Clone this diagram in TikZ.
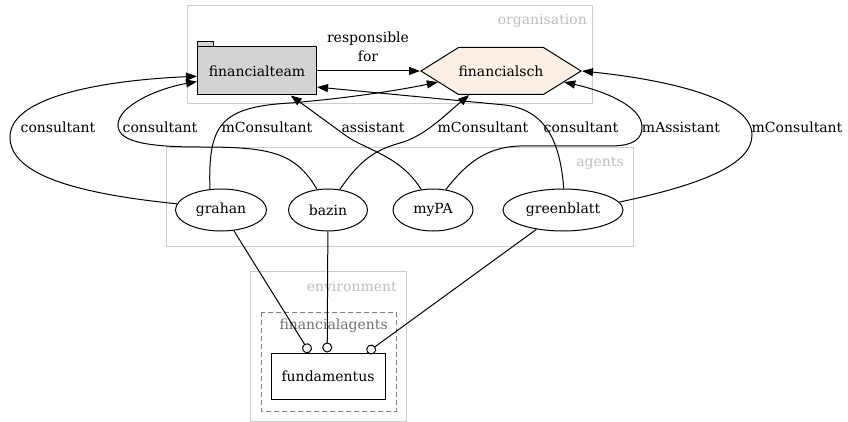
\documentclass[tikz,border=0pt]{standalone}
\usepackage{fontspec}
\setmainfont{DejaVu Serif}
\usetikzlibrary{arrows.meta,shapes.symbols,shapes.geometric}

\definecolor{clusterline}{HTML}{CCCCCC}
\definecolor{clustertext}{HTML}{BEBEBE}
\definecolor{groupline}{HTML}{7F7F7F}
\definecolor{grouptext}{HTML}{707070}
\definecolor{teamfill}{HTML}{D3D3D3}
\definecolor{schfill}{HTML}{FAF0E6}

\tikzset{
  txt/.style={font=\fontsize{14}{17}\selectfont},
  cluster/.style={draw=clusterline, line width=1pt},
  clusterlabel/.style={txt, text=clustertext, anchor=east, inner sep=0pt},
  agent/.style={ellipse, draw, minimum height=42pt, inner sep=0pt},
  rel/.style={draw, line width=1pt, -{Triangle[length=11pt,width=8pt]}},
  uses/.style={draw, line width=1pt, -{Circle[open,length=10pt,width=10pt]}},
  elabel/.style={txt, inner sep=0pt}
}

\begin{document}
\begin{tikzpicture}[x=1pt, y=-1pt]
\useasboundingbox (0,0) rectangle (848,422);

% clusters
\draw[cluster] (187,6) rectangle (592,104);
\node[clusterlabel] (orglabel) at (587,21) {organisation};
\draw[cluster] (166,148) rectangle (633,246);
\node[clusterlabel] (agentslabel) at (624,163) {agents};
\draw[cluster] (250,271) rectangle (406,421);
\node[clusterlabel] (envlabel) at (397,286) {environment};
\draw[draw=groupline, dash pattern=on 5pt off 3pt, line width=1pt] (261,312) rectangle (396,411);
\node[clusterlabel, text=grouptext] (grouplabel) at (388,326) {financialagents};

\begin{scope}[every node/.style={txt, draw, line width=1pt}]
  \node[fill=teamfill, minimum width=119pt, minimum height=48pt, inner sep=0pt] (financialteam) at (257,71) {financialteam};
  \node[fill=schfill, signal, signal to=west and east, signal pointer angle=64,
        minimum width=160pt, minimum height=47pt, inner sep=0pt] (financialsch) at (501,71) {financialsch};
  \node[agent, minimum width=91pt] (grahan) at (221,210) {grahan};
  \node[agent, minimum width=79pt] (bazin) at (328,210) {bazin};
  \node[agent, minimum width=80pt] (myPA) at (433,210) {myPA};
  \node[agent, minimum width=120pt] (greenblatt) at (563,210) {greenblatt};
  \node[minimum width=114pt, minimum height=46pt, inner sep=0pt] (fundamentus) at (328,376) {fundamentus};
\end{scope}
\draw[fill=teamfill, line width=1pt] (financialteam.north west) rectangle ++(16,-5);

% relations
\path[rel] (financialteam.east) -- (financialsch.west)
  node[elabel, align=center] (resplabel) at (368,47) {responsible\\[2pt]for};
\path[rel] (grahan.172) .. controls (60,192) and (10,170) .. (10,137)
  .. controls (10,95) and (110,80) .. (financialteam.185)
  node[elabel] at (58,127) {consultant};
\path[rel] (bazin.118) .. controls (295,152) and (270,147) .. (200,147)
  .. controls (140,147) and (118,140) .. (118,125)
  .. controls (118,105) and (160,88) .. (financialteam.190)
  node[elabel] at (160,127) {consultant};
\path[rel] (grahan.118) .. controls (208,125) and (220,107) .. (290,103)
  .. controls (350,98) and (400,90) .. (financialsch.190)
  node[elabel] at (267,127) {mConsultant};
\path[rel] (myPA.120) .. controls (400,155) and (365,150) .. (345,135)
  -- (financialteam.-36)
  node[elabel] at (373,127) {assistant};
\path[rel] (bazin.60) .. controls (360,160) and (375,150) .. (400,143)
  .. controls (425,136) and (445,115) .. (financialsch.217)
  node[elabel] at (483,127) {mConsultant};
\path[rel] (greenblatt.88) .. controls (560,140) and (545,110) .. (505,105)
  -- (financialteam.-15)
  node[elabel] at (581,127) {consultant};
\path[rel] (myPA.58) .. controls (465,165) and (485,147) .. (520,146)
  -- (610,146) .. controls (635,146) and (642,138) .. (642,127)
  .. controls (642,105) and (600,90) .. (financialsch.-10)
  node[elabel] at (681,127) {mAssistant};
\path[rel] (greenblatt.8) .. controls (700,185) and (752,165) .. (752,135)
  .. controls (752,95) and (650,78) .. (financialsch.east)
  node[elabel] at (797,127) {mConsultant};

% environment links
\path[uses] (grahan) -- (fundamentus.128);
\path[uses] (bazin) -- (fundamentus.92);
\path[uses] (greenblatt) -- (fundamentus.31);
\end{tikzpicture}
\end{document}
